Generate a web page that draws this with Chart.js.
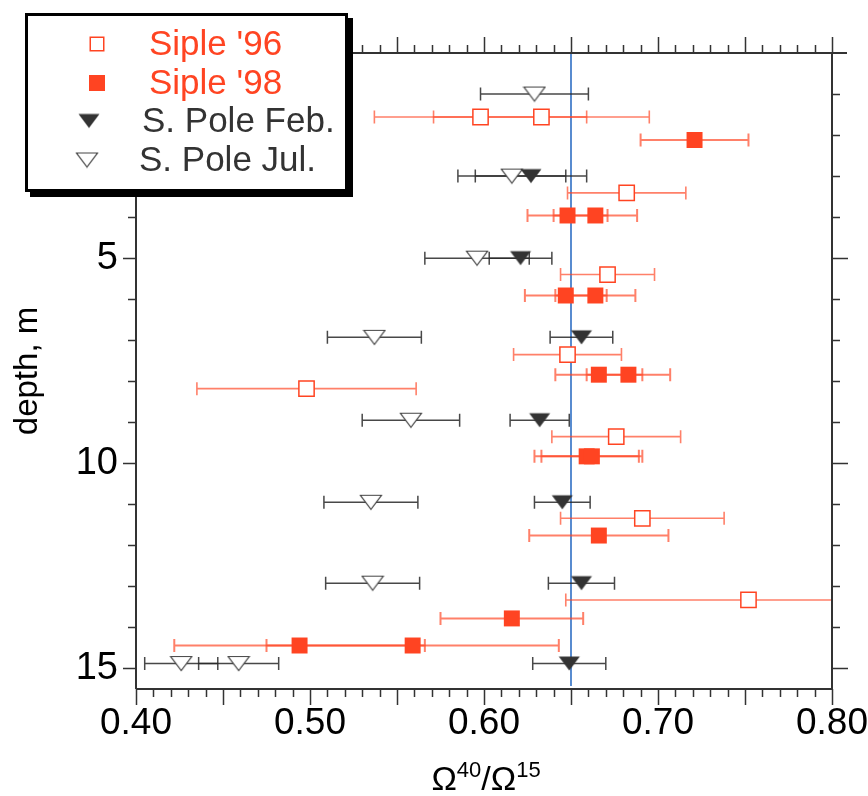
<!DOCTYPE html>
<html>
<head>
<meta charset="utf-8">
<script src="https://cdn.jsdelivr.net/npm/chart.js@4/dist/chart.umd.min.js"></script>
<style>
html, body { margin: 0; padding: 0; background: #fff; }
</style>
</head>
<body>
<canvas id="chart" width="868" height="796"></canvas>
<script>
// Siple Dome, 1996 and 1998 firn samples
var siple96Depth = [1.56, 1.56, 3.41, 5.40, 7.35, 8.18, 9.35, 11.34, 13.33];
var siple96Ratio = [0.598, 0.633, 0.682, 0.671, 0.648, 0.498, 0.676, 0.691, 0.752];
var siple96Err = [0.061, 0.062, 0.034, 0.027, 0.031, 0.063, 0.037, 0.047, 0.105];

var siple98Depth = [2.12, 3.96, 3.96, 5.91, 5.91, 7.84, 7.84, 9.83, 9.83, 11.76, 13.78, 14.44, 14.44];
var siple98Ratio = [0.721, 0.648, 0.664, 0.647, 0.664, 0.666, 0.683, 0.659, 0.662, 0.666, 0.616, 0.494, 0.559];
var siple98Err = [0.031, 0.023, 0.024, 0.0235, 0.023, 0.025, 0.024, 0.030, 0.029, 0.040, 0.041, 0.072, 0.084];

// South Pole, February and July
var poleFebDepth = [3.0, 5.0, 6.93, 8.95, 10.95, 12.92, 14.88];
var poleFebRatio = [0.627, 0.621, 0.656, 0.632, 0.645, 0.656, 0.649];
var poleFebErr = [0.032, 0.018, 0.018, 0.017, 0.016, 0.019, 0.021];

var poleJulDepth = [1.0, 3.0, 5.0, 6.93, 8.95, 10.95, 12.92, 14.88, 14.88];
var poleJulRatio = [0.629, 0.616, 0.596, 0.537, 0.558, 0.535, 0.536, 0.426, 0.459];
var poleJulErr = [0.031, 0.031, 0.030, 0.027, 0.028, 0.027, 0.027, 0.021, 0.023];

var refRatio = 0.65;
var xMin = 0.40, xMax = 0.80;
var depthMin = 0, depthMax = 15.5;

var red = '#ff4422';
var redBar = 'rgba(255,68,34,0.68)';
var dark = '#333333';
var sans = '"Liberation Sans", Arial, sans-serif';

function points(depths, ratios, errs) {
  var out = [];
  for (var i = 0; i < depths.length; i++) {
    out.push({x: ratios[i], y: depths[i], err: errs[i]});
  }
  return out;
}

// down-pointing triangle marker
function triangle(filled) {
  var c = document.createElement('canvas');
  c.width = 24; c.height = 17;
  var ctx = c.getContext('2d');
  ctx.beginPath();
  ctx.moveTo(1.5, 1.5);
  ctx.lineTo(22.5, 1.5);
  ctx.lineTo(12, 15.5);
  ctx.closePath();
  if (filled) {
    ctx.fillStyle = dark;
    ctx.fill();
  } else {
    ctx.fillStyle = '#fff';
    ctx.fill();
    ctx.strokeStyle = '#444';
    ctx.lineWidth = 1.2;
    ctx.stroke();
  }
  return c;
}
var triFilled = triangle(true);
var triOpen = triangle(false);

var errorBars = {
  id: 'errorBars',
  beforeDatasetsDraw: function(chart) {
    var ctx = chart.ctx, xs = chart.scales.x, ys = chart.scales.y, area = chart.chartArea;
    ctx.save();
    ctx.beginPath();
    ctx.rect(area.left, area.top, area.right - area.left, area.bottom - area.top);
    ctx.clip();
    // reference ratio
    var rx = xs.getPixelForValue(refRatio);
    ctx.strokeStyle = '#2f6fc4';
    ctx.lineWidth = 1.6;
    ctx.beginPath();
    ctx.moveTo(rx, area.top);
    ctx.lineTo(rx, area.bottom - 3);
    ctx.stroke();
    chart.data.datasets.forEach(function(ds) {
      ctx.strokeStyle = ds.barColor;
      ctx.lineWidth = ds.barWidth;
      ds.data.forEach(function(p) {
        var x0 = xs.getPixelForValue(p.x - p.err);
        var x1 = xs.getPixelForValue(p.x + p.err);
        var y = ys.getPixelForValue(p.y);
        ctx.beginPath();
        ctx.moveTo(x0, y); ctx.lineTo(x1, y);
        ctx.moveTo(x0, y - 6.5); ctx.lineTo(x0, y + 6.5);
        ctx.moveTo(x1, y - 6.5); ctx.lineTo(x1, y + 6.5);
        ctx.stroke();
      });
    });
    ctx.restore();
  }
};

// box frame with minor/major ticks on all four sides, plus the x title
var frame = {
  id: 'frame',
  afterDatasetsDraw: function(chart) {
    var ctx = chart.ctx, xs = chart.scales.x, ys = chart.scales.y, a = chart.chartArea;
    ctx.save();
    ctx.strokeStyle = dark;
    ctx.lineWidth = 2;
    ctx.beginPath();
    ctx.moveTo(a.left, a.top); ctx.lineTo(a.right + 15, a.top);
    ctx.moveTo(a.left, a.bottom); ctx.lineTo(a.right, a.bottom);
    ctx.moveTo(a.left, a.top); ctx.lineTo(a.left, a.bottom);
    ctx.moveTo(a.right, a.top); ctx.lineTo(a.right, a.bottom);
    ctx.stroke();
    ctx.lineWidth = 1.5;
    ctx.beginPath();
    for (var i = 0; i <= 40; i++) {
      var px = Math.round(xs.getPixelForValue(xMin + i * 0.01)) + 0.5;
      var len = i % 5 === 0 ? 16 : 8;
      ctx.moveTo(px, a.top); ctx.lineTo(px, a.top - len);
      ctx.moveTo(px, a.bottom); ctx.lineTo(px, a.bottom + len);
    }
    for (var d = 1; d <= 15; d++) {
      var py = Math.round(ys.getPixelForValue(d)) + 0.5;
      var major = d % 5 === 0;
      ctx.moveTo(a.left, py); ctx.lineTo(a.left - (major ? 13 : 8), py);
      ctx.moveTo(a.right, py); ctx.lineTo(a.right + (major ? 16 : 8), py);
    }
    ctx.stroke();

    // Ω40/Ω15 with raised digits
    var parts = [['Ω', 34, 0], ['40', 22, -13], ['/Ω', 34, 0], ['15', 22, -13]];
    var total = 0;
    parts.forEach(function(p) {
      ctx.font = p[1] + 'px ' + sans;
      p.push(ctx.measureText(p[0]).width);
      total += p[3];
    });
    var tx = (a.left + a.right) / 2 - total / 2 + 2;
    var base = 790;
    ctx.fillStyle = '#000';
    ctx.textBaseline = 'alphabetic';
    parts.forEach(function(p) {
      ctx.font = p[1] + 'px ' + sans;
      ctx.fillText(p[0], tx, base + p[2]);
      tx += p[3];
    });
    ctx.restore();
  }
};

var boxLegend = {
  id: 'boxLegend',
  afterDraw: function(chart) {
    var ctx = chart.ctx;
    var bx = 25, by = 13, bw = 323, bh = 179;
    ctx.save();
    ctx.fillStyle = '#000';
    ctx.fillRect(bx + 5, by + 5, bw, bh);
    ctx.fillStyle = '#fff';
    ctx.fillRect(bx, by, bw, bh);
    ctx.strokeStyle = '#000';
    ctx.lineWidth = 3;
    ctx.strokeRect(bx + 1.5, by + 1.5, bw - 3, bh - 3);
    var rows = [
      {mx: 97, my: 44, tx: 149},
      {mx: 97, my: 83, tx: 149},
      {mx: 89, my: 121, tx: 142},
      {mx: 87, my: 160, tx: 139}
    ];
    ctx.font = '35px ' + sans;
    ctx.textBaseline = 'middle';
    chart.data.datasets.forEach(function(ds, i) {
      var r = rows[i];
      if (ds.pointStyle === 'rect') {
        var s = ds.legendSize;
        ctx.fillStyle = ds.backgroundColor;
        ctx.fillRect(r.mx - s / 2, r.my - s / 2, s, s);
        if (ds.backgroundColor === '#fff') {
          ctx.strokeStyle = ds.borderColor;
          ctx.lineWidth = 1.5;
          ctx.strokeRect(r.mx - s / 2 + 0.75, r.my - s / 2 + 0.75, s - 1.5, s - 1.5);
        }
      } else {
        ctx.drawImage(ds.pointStyle, r.mx - ds.pointStyle.width / 2, r.my - ds.pointStyle.height / 2);
      }
      ctx.fillStyle = ds.labelColor;
      ctx.fillText(ds.label, r.tx, r.my + 1);
    });
    ctx.restore();
  }
};

new Chart(document.getElementById('chart'), {
  type: 'scatter',
  data: {
    datasets: [
      {label: "Siple '96", data: points(siple96Depth, siple96Ratio, siple96Err),
       pointStyle: 'rect', pointRadius: 10.8, pointBorderWidth: 1.5,
       backgroundColor: '#fff', borderColor: red, barColor: redBar, barWidth: 1.6,
       labelColor: red, legendSize: 15},
      {label: "Siple '98", data: points(siple98Depth, siple98Ratio, siple98Err),
       pointStyle: 'rect', pointRadius: 11.3, pointBorderWidth: 0,
       backgroundColor: red, borderColor: red, barColor: redBar, barWidth: 2,
       labelColor: red, legendSize: 16},
      {label: 'S. Pole Feb.', data: points(poleFebDepth, poleFebRatio, poleFebErr),
       pointStyle: triFilled, barColor: 'rgba(40,40,40,0.85)', barWidth: 1.5,
       labelColor: dark},
      {label: 'S. Pole Jul.', data: points(poleJulDepth, poleJulRatio, poleJulErr),
       pointStyle: triOpen, barColor: 'rgba(40,40,40,0.85)', barWidth: 1.5,
       labelColor: dark}
    ]
  },
  options: {
    responsive: false,
    animation: false,
    events: [],
    layout: {padding: {top: 53, right: 36, left: 0, bottom: 0}},
    plugins: {legend: {display: false}, tooltip: {enabled: false}},
    scales: {
      x: {
        type: 'linear', min: xMin, max: xMax,
        grid: {display: false, drawTicks: false},
        border: {display: false},
        ticks: {
          stepSize: 0.1, padding: 13, color: '#000', maxRotation: 0, autoSkip: false,
          font: {family: sans, size: 37},
          callback: function(v) { return Number(v).toFixed(2); }
        },
        title: {display: false},
        afterFit: function(s) { s.height = 107; s.paddingLeft = 0; s.paddingRight = 0; }
      },
      y: {
        type: 'linear', min: depthMin, max: depthMax, reverse: true,
        grid: {display: false, drawTicks: false},
        border: {display: false},
        ticks: {
          stepSize: 5, padding: 18, color: '#000', autoSkip: false, includeBounds: false,
          font: {family: sans, size: 38},
          callback: function(v) { return (v > 0 && v % 5 === 0) ? String(v) : ''; }
        },
        title: {display: true, text: 'depth, m', color: '#000', padding: {top: 8, bottom: 0},
          font: {family: sans, size: 33}},
        afterFit: function(s) { s.width = 136; s.paddingTop = 0; s.paddingBottom = 0; }
      }
    }
  },
  plugins: [errorBars, frame, boxLegend]
});
</script>
</body>
</html>
